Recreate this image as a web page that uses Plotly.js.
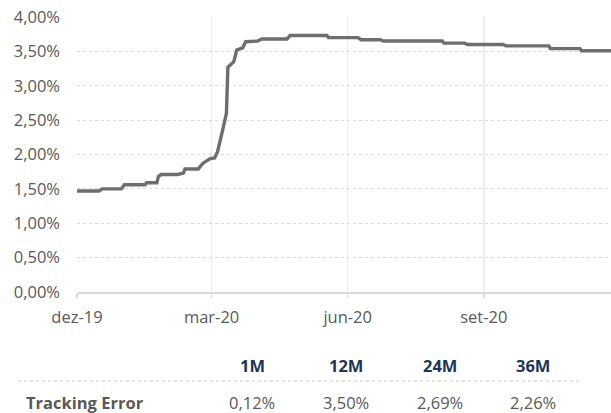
<!DOCTYPE html>
<html>
<head>
<meta charset="utf-8">
<script src="https://cdn.plot.ly/plotly-3.0.1.min.js"></script>
<style>html,body{margin:0;padding:0;background:#fff;}#chart{width:611px;height:413px;}</style>
</head>
<body>
<div id="chart"></div>
<script>
// Tracking error series (step points)
const dates = [
  "2019-12-01","2019-12-16","2019-12-18","2019-12-31","2020-01-02","2020-01-16",
  "2020-01-17","2020-01-24","2020-01-25","2020-01-27","2020-02-07","2020-02-10",
  "2020-02-11","2020-02-12","2020-02-21","2020-02-24","2020-02-29","2020-03-03",
  "2020-03-05","2020-03-08","2020-03-09","2020-03-11","2020-03-12","2020-03-15",
  "2020-03-16","2020-03-18","2020-03-22","2020-03-24","2020-04-01","2020-04-04",
  "2020-04-21","2020-04-23","2020-05-18","2020-05-19","2020-06-08","2020-06-10",
  "2020-06-23","2020-06-25","2020-08-04","2020-08-05","2020-08-19","2020-08-21",
  "2020-09-14","2020-09-16","2020-10-15","2020-10-16","2020-11-05","2020-11-06",
  "2020-11-26"
];
const values = [
  1.47,1.47,1.50,1.50,1.56,1.56,
  1.59,1.59,1.68,1.71,1.71,1.73,
  1.73,1.79,1.79,1.87,1.94,1.95,
  2.04,2.31,2.40,2.60,3.27,3.33,
  3.35,3.52,3.55,3.64,3.65,3.68,
  3.68,3.73,3.73,3.70,3.70,3.67,
  3.67,3.65,3.65,3.62,3.62,3.60,
  3.60,3.58,3.58,3.54,3.54,3.51,
  3.51
];
const tickVals = ["2019-12-01","2020-03-01","2020-06-01","2020-09-01"];
const tickText = ["dez-19","mar-20","jun-20","set-20"];
const yTickVals = [0,0.5,1,1.5,2,2.5,3,3.5,4];
const yTickText = ["0,00%","0,50%","1,00%","1,50%","2,00%","2,50%","3,00%","3,50%","4,00%"];

// Summary table
const periods = ["1M","12M","24M","36M"];
const rowLabel = "Tracking Error";
const teValues = ["0,12%","3,50%","2,69%","2,26%"];

// layout helpers (pixel -> paper)
const L = 77, R = 611, T = 17, B = 292;
const px = x => (x - L) / (R - L);
const py = y => (B - y) / (B - T);
const colX = [252, 346, 440, 533];

const FONT = "Open Sans";
const GRAY = "#595959";
const NAVY = "#1d3557";
const FS = 16.5;

const annotations = [];
periods.forEach((p, i) => {
  annotations.push({xref:"paper", yref:"paper", x:px(colX[i]), y:py(365), text:"<b>"+p+"</b>",
    showarrow:false, xanchor:"center", yanchor:"middle", font:{family:FONT, size:16.5, color:NAVY}});
  annotations.push({xref:"paper", yref:"paper", x:px(colX[i]), y:py(402), text:teValues[i],
    showarrow:false, xanchor:"center", yanchor:"middle", font:{family:FONT, size:FS, color:GRAY}});
});
annotations.push({xref:"paper", yref:"paper", x:px(24), y:py(402), text:"<b>"+rowLabel+"</b>",
  showarrow:false, xanchor:"left", yanchor:"middle", font:{family:FONT, size:16.5, color:GRAY}});

const shapes = [{type:"line", xref:"paper", yref:"paper", x0:px(18), x1:px(580), y0:py(381), y1:py(381),
  line:{color:"#e3e3e3", width:2, dash:"dot"}}];

Plotly.newPlot("chart", [{
  x: dates, y: values, type:"scatter", mode:"lines",
  line:{color:"#6e6e6e", width:3.4}, hoverinfo:"skip"
}], {
  width:611, height:413,
  margin:{l:L, r:611-R, t:T, b:413-B},
  paper_bgcolor:"#fff", plot_bgcolor:"#fff",
  showlegend:false,
  font:{family:FONT, size:FS, color:GRAY},
  xaxis:{type:"date", range:["2019-12-01","2020-11-26"], tickvals:tickVals, ticktext:tickText,
    showgrid:true, gridcolor:"#ececec", gridwidth:1.5,
    showline:true, linecolor:"#d9d9d9", linewidth:1.5,
    ticks:"outside", ticklen:4, tickcolor:"#d9d9d9", tickwidth:1.5, ticklabelstandoff:6,
    tickfont:{family:FONT, size:FS, color:GRAY}, zeroline:false, fixedrange:true},
  yaxis:{range:[0,4], tickvals:yTickVals, ticktext:yTickText,
    showgrid:true, gridcolor:"#d9d9d9", gridwidth:1, griddash:"dot",
    showline:false, zeroline:false, ticks:"", ticklabelstandoff:16,
    tickfont:{family:FONT, size:FS, color:GRAY}, fixedrange:true},
  annotations: annotations,
  shapes: shapes
}, {displayModeBar:false, staticPlot:true});
</script>
</body>
</html>
